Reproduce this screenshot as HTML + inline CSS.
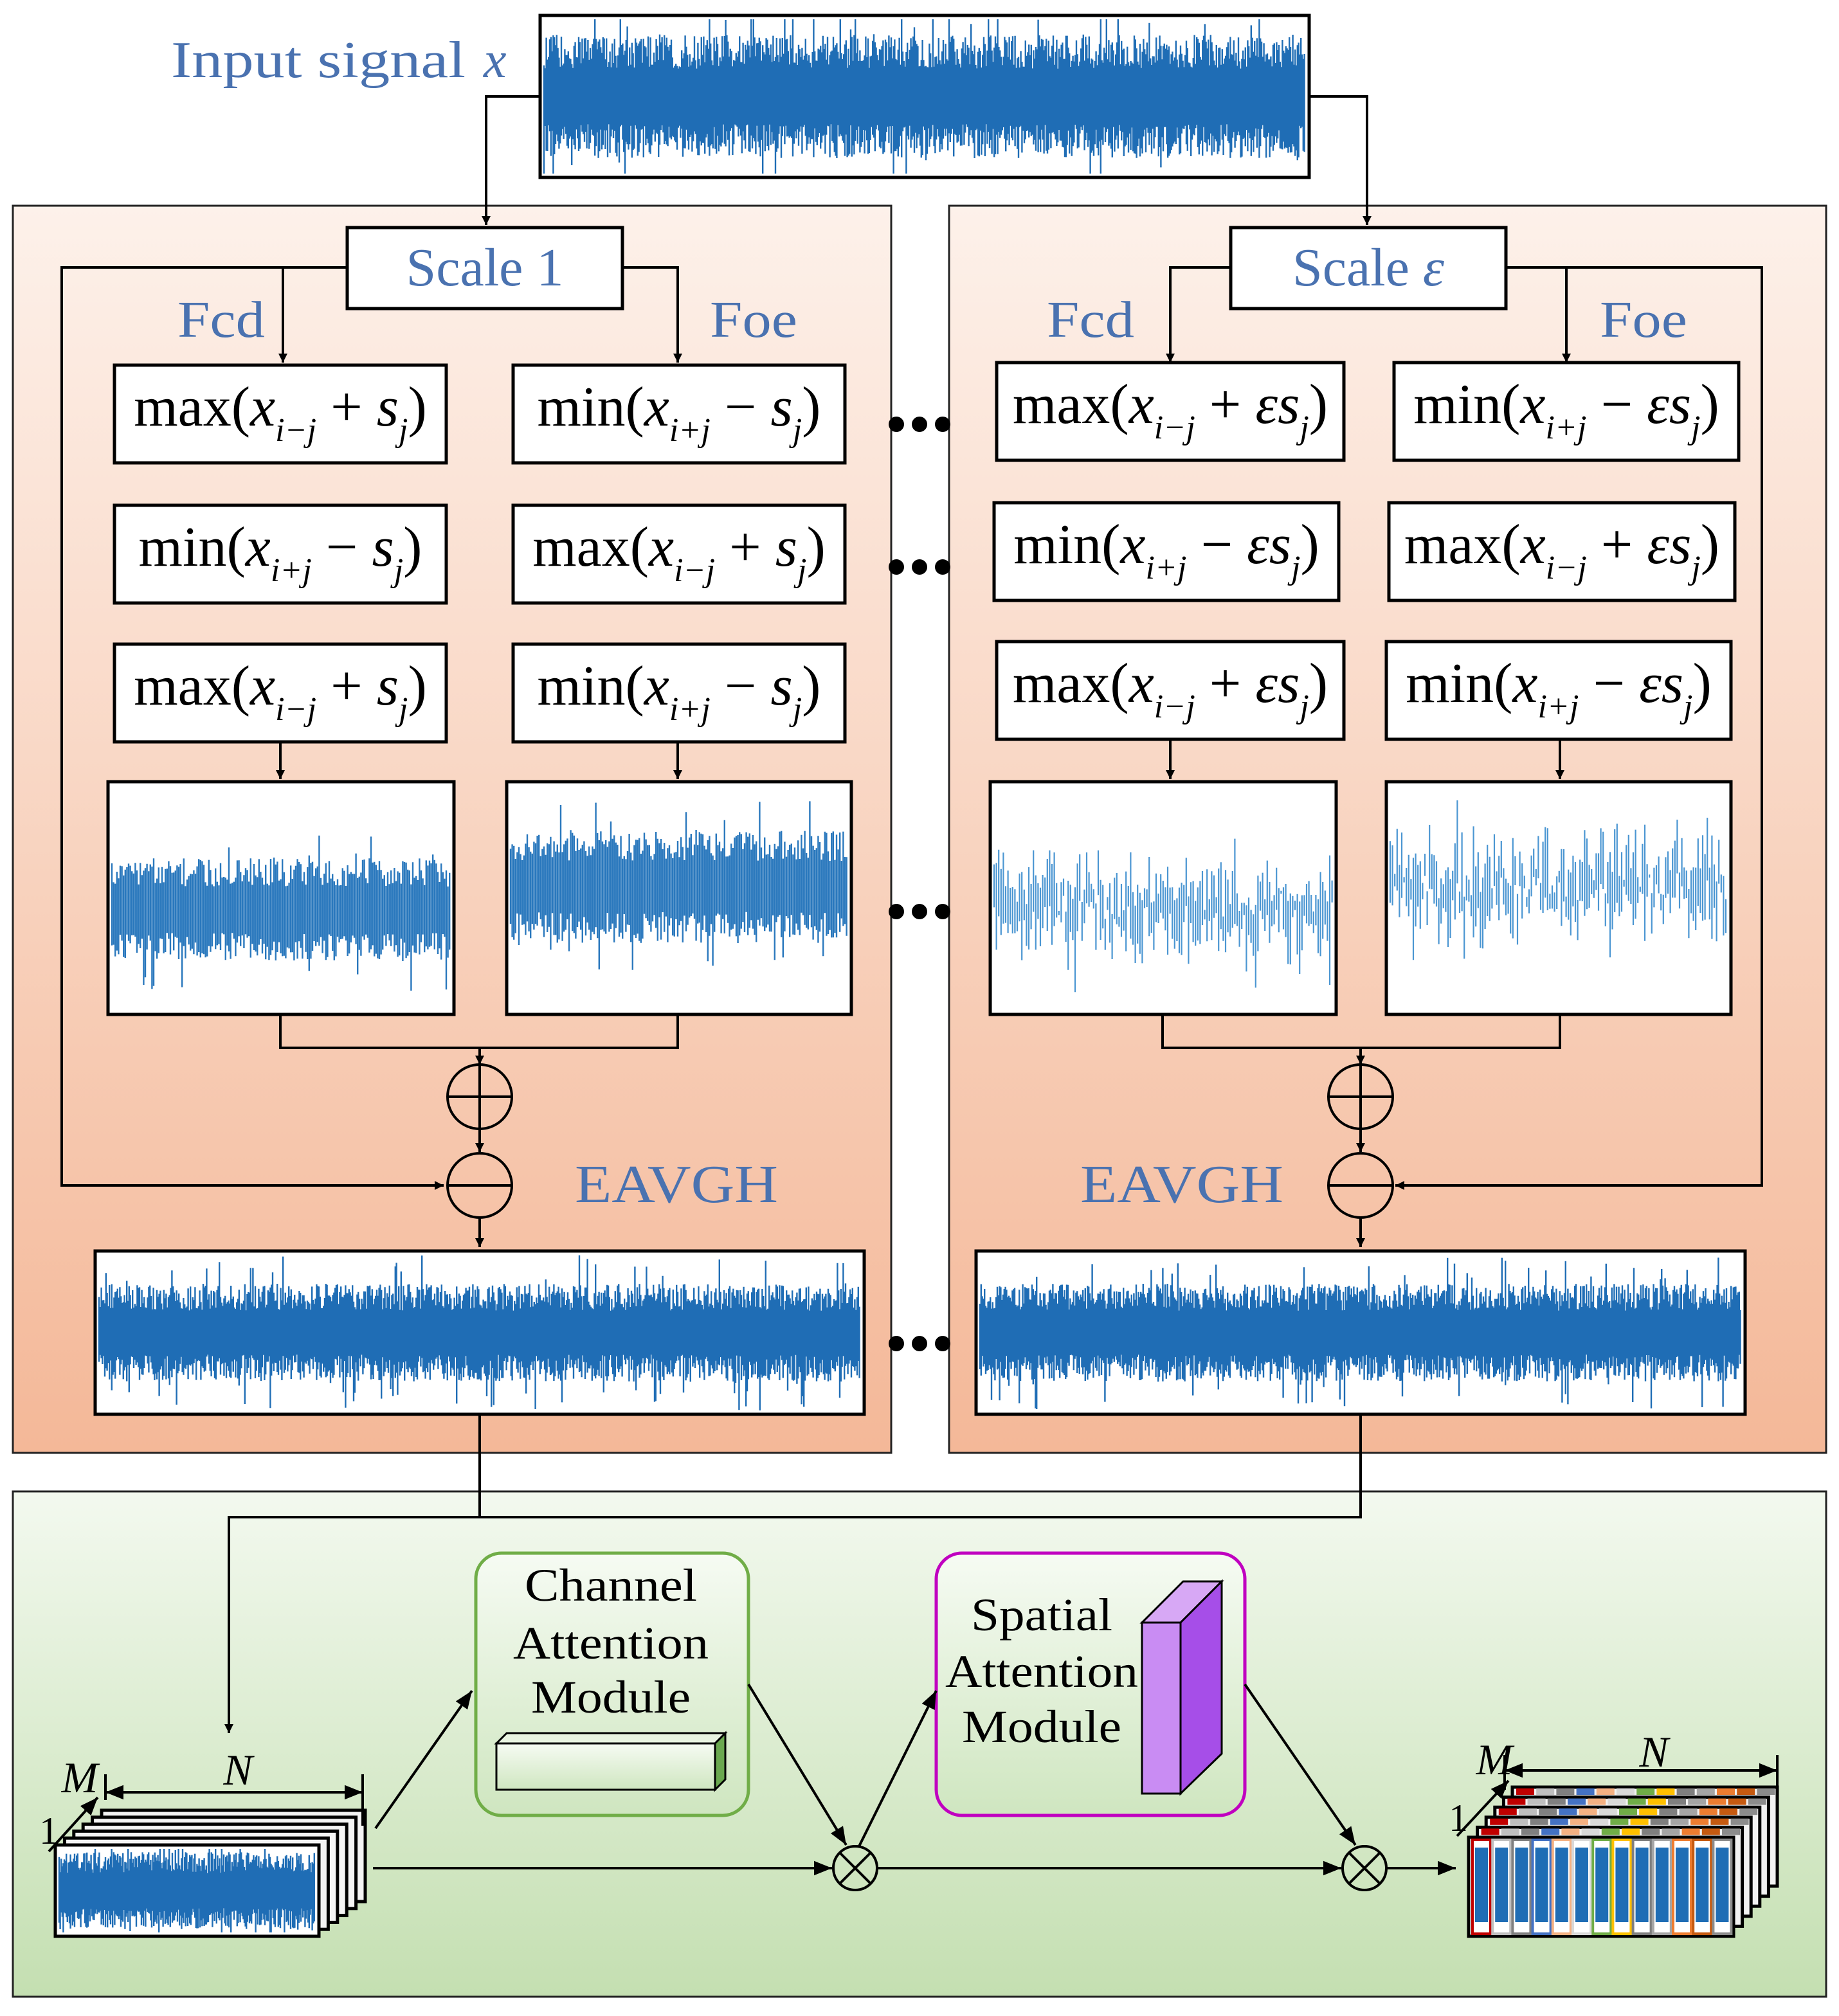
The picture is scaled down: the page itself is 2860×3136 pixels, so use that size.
<!DOCTYPE html>
<html><head><meta charset="utf-8"><style>
html,body{margin:0;padding:0;background:#fff;}
svg{display:block;}
.t{font-family:"Liberation Serif",serif;}
</style></head><body>
<svg id="s" width="2860" height="3136" viewBox="0 0 1430 1568" xmlns="http://www.w3.org/2000/svg">
<defs>
<linearGradient id="og" x1="0" y1="0" x2="0" y2="1"><stop offset="0" stop-color="#fdf1ea"/><stop offset="1" stop-color="#f4b898"/></linearGradient>
<linearGradient id="gg" x1="0" y1="0" x2="0" y2="1"><stop offset="0" stop-color="#f3f9ef"/><stop offset="1" stop-color="#c4dfb1"/></linearGradient>
<linearGradient id="cg" x1="0" y1="0" x2="0" y2="1"><stop offset="0" stop-color="#f6fbf3"/><stop offset="1" stop-color="#cfe6c0"/></linearGradient>
<marker id="a" viewBox="0 0 10 10" refX="10" refY="5" markerWidth="7" markerHeight="7" orient="auto-start-reverse" markerUnits="userSpaceOnUse"><path d="M0,0 L10,5 L0,10 z" fill="#000"/></marker>
<marker id="b" viewBox="0 0 10 10" refX="10" refY="5" markerWidth="14" markerHeight="14" orient="auto-start-reverse" markerUnits="userSpaceOnUse"><path d="M0,1 L10,5 L0,9 z" fill="#000"/></marker>
</defs>
<rect x="0" y="0" width="1430" height="1568" fill="#fff"/>
<rect x="10" y="160" width="683" height="970" fill="url(#og)" stroke="#222" stroke-width="1.5"/>
<rect x="738" y="160" width="682" height="970" fill="url(#og)" stroke="#222" stroke-width="1.5"/>
<rect x="10" y="1160" width="1410" height="393" fill="url(#gg)" stroke="#222" stroke-width="1.5"/>
<g id="dyn"></g>
</svg>
<script>
var NS="http://www.w3.org/2000/svg",G=document.getElementById('dyn');
var seed=12345;function R(){seed=(seed*16807)%2147483647;return (seed-1)/2147483646;}
function el(t,a,txt){var e=document.createElementNS(NS,t);for(var k in a)e.setAttribute(k,a[k]);if(txt!=null)e.textContent=txt;G.appendChild(e);return e;}
function rect(x,y,w,h,f,s,sw){return el('rect',{x:x,y:y,width:w,height:h,fill:f||'#fff',stroke:s||'#000','stroke-width':sw||2});}
function line(pts,arrow,m){return el('polyline',{points:pts,fill:'none',stroke:'#000','stroke-width':2,'marker-end':arrow?'url(#'+(m||'a')+')':''});}
function txt(x,y,s,size,col,anchor,ital,tl){var a={x:x,y:y,'class':'t','font-size':size,fill:col||'#000','text-anchor':anchor||'start','font-style':ital?'italic':'normal'};if(tl){a.textLength=tl;a.lengthAdjust='spacingAndGlyphs';}return el('text',a,s);}
function sig(x0,y0,x1,y1,o){
 var d='',cy=y0+(y1-y0)*(o.c||0.5),st=o.step||1.2,amp=o.amp;
 for(var x=x0+3;x<x1-3;x+=st){
  var a1=amp*(0.45+0.55*R()),a2=amp*(0.45+0.55*R());
  if(R()<(o.sp||0.05)){a1*=1.6;} if(R()<(o.sp||0.05)){a2*=1.6;}
  var ya=Math.max(y0+3,cy-a1),yb=Math.min(y1-3,cy+a2);
  if(o.sparse){var c=cy+(R()-0.5)*amp*0.6;ya=Math.max(y0+3,c-a1*R());yb=Math.min(y1-3,c+a2*R());}
  d+='M'+x.toFixed(1)+' '+ya.toFixed(1)+'V'+yb.toFixed(1);
 }
 el('path',{d:d,stroke:o.col||'#1f6db5','stroke-width':o.w||1.1,fill:'none'});
}
function box(x0,y0,x1,y1){rect(x0,y0,x1-x0,y1-y0,'#fff','#000',2.5);}
// input
box(420,12,1018,138);sig(420,12,1018,138,{amp:48,step:0.9,sp:0.06,w:1.2});
txt(133,60,'Input signal',40,'#4a72b0','start',0,229);txt(376,60,'x',40,'#4a72b0','start',true);
line('420,75 378,75 378,175',1);line('1018,75 1063,75 1063,175',1);
// scale boxes
function scale(x0,lbl,ital){box(x0,177,x0+214,240);var t=txt(x0+107,222,lbl,42,'#4a72b0','middle');if(ital){t.textContent='Scale ';var s=document.createElementNS(NS,'tspan');s.setAttribute('font-style','italic');s.textContent='ε';t.appendChild(s);}}
scale(270,'Scale 1');scale(957,'Scale ε',1);
line('270,208 220,208 220,282',1);line('484,208 527,208 527,282',1);
line('270,208 48,208 48,922 345,922',1);
line('957,208 910,208 910,282',1);line('1170,208 1218,208 1218,282',1);
line('1170,208 1370,208 1370,922 1085,922',1);
txt(138,262,'Fcd',40,'#4a72b0','start',0,68);txt(552,262,'Foe',40,'#4a72b0','start',0,68);
txt(814,262,'Fcd',40,'#4a72b0','start',0,68);txt(1244,262,'Foe',40,'#4a72b0','start',0,68);
// formulas
function formula(x0,y0,x1,y1,fn,sub,op,eps){
 box(x0,y0,x1,y1);var w=x1-x0,by=y0+47;
 var t=el('text',{x:x0+w/2,y:by,'class':'t','font-size':44,'text-anchor':'middle'});
 function ts(s,a){var e=document.createElementNS(NS,'tspan');for(var k in a)e.setAttribute(k,a[k]);e.textContent=s;t.appendChild(e);}
 ts(fn+'(');ts('x',{'font-style':'italic'});ts(sub,{'font-style':'italic','font-size':26,dy:12});
 ts(' '+op+' ',{dy:-12});ts(eps?'εs':'s',{'font-style':'italic'});ts('j',{'font-style':'italic','font-size':26,dy:12});ts(')',{dy:-12});
}
var L=[[284,360],[393,469],[501,577]];
var f1=[['max','i−j','+'],['min','i+j','−'],['max','i−j','+']],f2=[['min','i+j','−'],['max','i−j','+'],['min','i+j','−']];
for(var i=0;i<3;i++){
 formula(89,L[i][0],347,L[i][1],f1[i][0],f1[i][1],f1[i][2]);
 formula(399,L[i][0],657,L[i][1],f2[i][0],f2[i][1],f2[i][2]);
}
var rx=[[775,1045,1084,1352],[773,1041,1080,1349],[775,1045,1078,1346]];
for(i=0;i<3;i++){
 formula(rx[i][0],L[i][0]-2,rx[i][1],L[i][1]-2,f1[i][0],f1[i][1],f1[i][2],1);
 formula(rx[i][2],L[i][0]-2,rx[i][3],L[i][1]-2,f2[i][0],f2[i][1],f2[i][2],1);
}
line('218,577 218,606',1);line('527,577 527,606',1);line('910,575 910,606',1);line('1213,575 1213,606',1);
// plots
box(84,608,353,789);sig(84,608,353,789,{amp:40,step:1.3,col:'#2a78bd',w:1.2,sp:0.08,c:0.55});
box(394,608,662,789);sig(394,608,662,789,{amp:44,step:1.3,col:'#2a78bd',w:1.2,sp:0.08,c:0.45});
box(770,608,1039,789);sig(770,608,1039,789,{amp:48,step:1.8,col:'#4b96d2',w:1.1,sp:0.1,c:0.55,sparse:1});
box(1078,608,1346,789);sig(1078,608,1346,789,{amp:50,step:1.8,col:'#4b96d2',w:1.1,sp:0.1,c:0.45,sparse:1});
line('218,789 218,815 527,815 527,789');line('373,815 373,828',1);
line('904,789 904,815 1213,815 1213,789');line('1058,815 1058,828',1);
function oplus(cx,cy,minus){el('circle',{cx:cx,cy:cy,r:25,fill:'none',stroke:'#000','stroke-width':2});line((cx-25)+','+cy+' '+(cx+25)+','+cy);if(!minus)line(cx+','+(cy-25)+' '+cx+','+(cy+25));}
oplus(373,853);line('373,878 373,896',1);oplus(373,922,1);line('373,947 373,970',1);
oplus(1058,853);line('1058,878 1058,896',1);oplus(1058,922,1);line('1058,947 1058,970',1);
txt(447,935,'EAVGH',42,'#4a72b0','start',0,158);txt(840,935,'EAVGH',42,'#4a72b0','start',0,158);
box(74,973,672,1100);sig(74,973,672,1100,{amp:38,step:0.9,sp:0.06,w:1.2});
box(759,973,1357,1100);sig(759,973,1357,1100,{amp:38,step:0.9,sp:0.06,w:1.2});
// dots
[330,441,709,1045].forEach(function(y){[697,715,733].forEach(function(x){el('circle',{cx:x,cy:y,r:6,fill:'#000'});});});
line('373,1100 373,1180');line('1058,1100 1058,1180 178,1180 178,1348',1);
// attention modules
el('rect',{x:370,y:1208,width:212,height:204,rx:20,fill:'url(#cg)',stroke:'#70ad47','stroke-width':2.5});
txt(475,1245,'Channel',36,'#000','middle',0,134);txt(475,1290,'Attention',36,'#000','middle',0,152);txt(475,1332,'Module',36,'#000','middle',0,124);
el('polygon',{points:'386,1356 394,1348 564,1348 556,1356',fill:'#e9f4e1',stroke:'#000','stroke-width':1.5});
el('polygon',{points:'556,1356 564,1348 564,1384 556,1392',fill:'#6aa84f',stroke:'#000','stroke-width':1.5});
el('rect',{x:386,y:1356,width:170,height:36,fill:'url(#cg)',stroke:'#000','stroke-width':1.5});
el('rect',{x:728,y:1208,width:240,height:204,rx:20,fill:'url(#cg)',stroke:'#c000c0','stroke-width':2.5});
txt(810,1268,'Spatial',36,'#000','middle',0,110);txt(810,1312,'Attention',36,'#000','middle',0,150);txt(810,1355,'Module',36,'#000','middle',0,124);
el('polygon',{points:'888,1262 918,1262 950,1230 920,1230',fill:'#d7a8f5',stroke:'#000','stroke-width':1.5});
el('polygon',{points:'918,1262 950,1230 950,1364 918,1395',fill:'#a64ee8',stroke:'#000','stroke-width':1.5});
el('rect',{x:888,y:1262,width:30,height:133,fill:'#c98cf3',stroke:'#000','stroke-width':1.5});
function otimes(cx,cy){el('circle',{cx:cx,cy:cy,r:17,fill:'none',stroke:'#000','stroke-width':2});line((cx-12)+','+(cy-12)+' '+(cx+12)+','+(cy+12));line((cx-12)+','+(cy+12)+' '+(cx+12)+','+(cy-12));}
otimes(665,1453);otimes(1061,1453);
line('292,1422 367,1315',1,'b');line('582,1310 658,1435',1,'b');line('668,1436 728,1315',1,'b');line('968,1310 1054,1435',1,'b');
line('290,1453 647,1453',1,'b');line('682,1453 1043,1453',1,'b');line('1078,1453 1132,1453',1,'b');
// left stack
for(var k=5;k>=1;k--){rect(43+k*7.2,1435-k*5.4,205,71,'#f4f4f4','#000',2.5);}
rect(43,1435,205,71,'#fff','#000',2.5);sig(43,1435,248,1506,{amp:30,step:0.8,sp:0.07,w:1.2});
line('82,1394 282,1394',1,'b');
line('282,1380 282,1420');line('82,1380 82,1400');
el('line',{x1:82,y1:1394,x2:96,y2:1394,stroke:'#000','stroke-width':2,'marker-start':'url(#b)'});
line('38,1440 76,1398',1,'b');
txt(185,1388,'N',34,'#000','middle',1);txt(62,1394,'M',34,'#000','middle',1);txt(38,1434,'1',30,'#000','middle');
// right stack
var cols=['#c00000','#bfbfbf','#808080','#4472c4','#f4b183','#d9d9d9','#70ad47','#ffc000','#7f7f7f','#a5a5a5','#ed7d31','#c55a11','#8c8c8c'];
for(k=5;k>=0;k--){
 var ox=1142+k*6.8,oy=1429-k*7.8;
 rect(ox,oy,206,77,k?'#f2f2f2':'#fff','#000',2.5);
 for(var c=0;c<13;c++){var cx=ox+2+c*15.6;
  if(k){el('rect',{x:cx+1,y:oy+1,width:14,height:5,fill:cols[c]});}
  else{el('rect',{x:cx+1,y:oy+2,width:14,height:73,fill:'#fff',stroke:cols[c],'stroke-width':2});
   el('rect',{x:cx+3,y:oy+8,width:10,height:58,fill:'#1f6db5'});}
 }
}
line('1170,1377 1382,1377',1,'b');el('line',{x1:1170,y1:1377,x2:1184,y2:1377,stroke:'#000','stroke-width':2,'marker-start':'url(#b)'});
line('1382,1365 1382,1392');line('1170,1365 1170,1392');
line('1133,1428 1173,1385',1,'b');
txt(1286,1374,'N',34,'#000','middle',1);txt(1162,1380,'M',34,'#000','middle',1);txt(1134,1424,'1',30,'#000','middle');
</script>
</body></html>
